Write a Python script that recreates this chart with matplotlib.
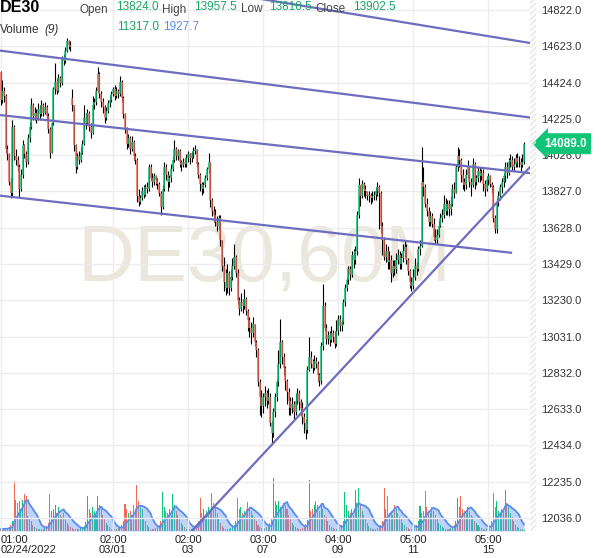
import matplotlib.pyplot as plt
import matplotlib.patches as mpatches
import matplotlib.transforms as mtransforms
import numpy as np
import pandas as pd

plt.rcParams["font.family"] = ["Liberation Sans", "DejaVu Sans"]

###############################################################################
# DE30 hourly candles, 02/24/2022 01:00 -> 03/15/2022 (one row per session)
###############################################################################

first_open = 14480
gap_opens = {42: 14340}  # weekend gap (02/25 -> 02/28)

closes = [
    14330, 14380, 14350, 14060, 14030, 13880, 13820, 14180, 14020, 14000, 13960, 13840, 13920, 14080, 14030, 13990, 14120, 14180, 14300, 14240, 14260, 14230,
    14280, 14250, 14300, 14260, 14290, 14240, 14170, 14040, 14200, 14390, 14430, 14380, 14450, 14420, 14560, 14540, 14600, 14650, 14630, 14620, 14300, 14080,
    13960, 14020, 14000, 14040, 14090, 14230, 14200, 14260, 14180, 14150, 14300, 14320, 14380, 14470, 14360, 14320, 14290, 14230, 14270, 14310, 14330, 14360,
    14390, 14350, 14380, 14360, 14430, 14340, 14250, 14170, 14090, 14120, 14060, 14100, 14020, 14000, 13800, 13770, 13790, 13830, 13810, 13850, 13840, 13960,
    13900, 13880, 13910, 13890, 13870, 13820, 13740, 13840, 13960, 13920, 13880, 13900, 13950, 14000, 14060, 14020, 14050, 13990, 13970, 13990, 13980, 14010,
    14030, 14010, 14040, 14050, 14060, 13980, 13920, 13870, 13840, 13860, 13900, 13950, 13990, 13780, 13720, 13700, 13660, 13640, 13680, 13560, 13420, 13330,
    13300, 13380, 13300, 13360, 13420, 13470, 13380, 13230, 13180, 13220, 13200, 13240, 13170, 13120, 13080, 13050, 13100, 13000, 12960, 12780, 12700, 12650,
    12700, 12720, 12680, 12700, 12560, 12500, 12620, 12700, 12780, 12880, 13000, 12920, 12860, 12790, 12730, 12680, 12640, 12660, 12620, 12680, 12720, 12670,
    12640, 12590, 12560, 12520, 12850, 12920, 12880, 12860, 12900, 12880, 12820, 12790, 12980, 13200, 13080, 13020, 13040, 13010, 13050, 13030, 12990, 13060,
    13130, 13090, 13110, 13220, 13300, 13340, 13400, 13370, 13480, 13450, 13500, 13700, 13860, 13800, 13870, 13840, 13830, 13800, 13810, 13790, 13800, 13810,
    13830, 13850, 13820, 13640, 13560, 13470, 13500, 13440, 13450, 13380, 13420, 13400, 13450, 13480, 13430, 13460, 13500, 13520, 13450, 13390, 13330, 13310,
    13360, 13420, 13400, 13510, 13530, 13880, 13850, 13760, 13720, 13660, 13690, 13650, 13580, 13560, 13590, 13640, 13680, 13700, 13760, 13720, 13760, 13730,
    13760, 13840, 13820, 13960, 14020, 14000, 13920, 13880, 13860, 13920, 13960, 13880, 13860, 13980, 13880, 13900, 13940, 13910, 13930, 13870, 13840, 13890,
    13910, 13870, 13850, 13680, 13620, 13770, 13800, 13850, 13880, 13910, 13960, 13930, 13990, 14000, 13960, 13980, 14010, 13990, 13990, 13970, 13990, 14089,
]

highs = [
    14490, 14440, 14400, 14360, 14080, 14040, 13900, 14220, 14190, 14060, 14020, 13980, 13950, 14110, 14090, 14050, 14140, 14210, 14340, 14310, 14290, 14280,
    14310, 14300, 14330, 14310, 14320, 14300, 14260, 14180, 14210, 14400, 14530, 14450, 14470, 14460, 14570, 14580, 14620, 14670, 14660, 14650, 14390, 14300,
    14090, 14040, 14050, 14070, 14110, 14300, 14260, 14280, 14270, 14200, 14350, 14340, 14400, 14510, 14480, 14380, 14340, 14300, 14290, 14330, 14350, 14380,
    14400, 14410, 14400, 14390, 14460, 14440, 14350, 14260, 14180, 14140, 14130, 14130, 14110, 14040, 14010, 13840, 13810, 13850, 13860, 13870, 13880, 13980,
    13980, 13930, 13930, 13920, 13900, 13880, 13830, 13860, 13990, 13980, 13940, 13920, 13980, 14020, 14110, 14070, 14060, 14060, 14000, 14010, 14010, 14030,
    14050, 14040, 14050, 14070, 14080, 14060, 13990, 13930, 13880, 13880, 13920, 13960, 14040, 13990, 13790, 13750, 13730, 13690, 13700, 13700, 13560, 13470,
    13400, 13430, 13390, 13400, 13460, 13540, 13480, 13400, 13250, 13270, 13240, 13290, 13250, 13180, 13140, 13110, 13140, 13100, 13010, 12970, 12800, 12740,
    12720, 12760, 12740, 12750, 12720, 12570, 12640, 12720, 12800, 12960, 13130, 13010, 12940, 12870, 12800, 12750, 12700, 12700, 12680, 12720, 12750, 12740,
    12690, 12670, 12610, 12580, 12870, 13030, 12950, 12910, 12930, 12920, 12900, 12830, 13000, 13320, 13220, 13100, 13060, 13060, 13090, 13070, 13060, 13120,
    13150, 13150, 13130, 13240, 13320, 13360, 13420, 13420, 13500, 13510, 13530, 13720, 13900, 13860, 13890, 13880, 13860, 13830, 13830, 13820, 13830, 13830,
    13850, 13880, 13860, 13830, 13660, 13580, 13540, 13530, 13500, 13480, 13450, 13450, 13490, 13510, 13500, 13490, 13540, 13560, 13540, 13460, 13400, 13360,
    13400, 13460, 13440, 13530, 13560, 14070, 13960, 13870, 13790, 13740, 13720, 13710, 13680, 13620, 13620, 13670, 13710, 13730, 13810, 13790, 13780, 13780,
    13800, 13870, 13880, 13980, 14070, 14060, 14010, 13950, 13900, 13950, 14000, 13960, 13900, 14010, 13990, 13920, 13960, 13960, 13950, 13950, 13890, 13910,
    13930, 13920, 13880, 13860, 13700, 13790, 13830, 13870, 13900, 13930, 13990, 13990, 14010, 14030, 14020, 14010, 14030, 14040, 14020, 14010, 14030, 14100,
]

lows = [
    14300, 14310, 14320, 14040, 14000, 13860, 13790, 13800, 14000, 13970, 13940, 13790, 13830, 13900, 14010, 13960, 13980, 14100, 14170, 14220, 14220, 14200,
    14220, 14220, 14240, 14240, 14250, 14220, 14150, 14010, 14040, 14190, 14360, 14360, 14370, 14400, 14410, 14520, 14530, 14590, 14610, 14600, 14270, 14050,
    13930, 13950, 13980, 13990, 14030, 14080, 14170, 14190, 14160, 14120, 14140, 14280, 14300, 14370, 14340, 14290, 14260, 14200, 14220, 14260, 14290, 14320,
    14350, 14330, 14340, 14340, 14350, 14320, 14230, 14150, 14060, 14070, 14030, 14050, 14000, 13980, 13770, 13750, 13760, 13780, 13790, 13800, 13820, 13830,
    13890, 13850, 13860, 13860, 13840, 13800, 13700, 13730, 13830, 13890, 13830, 13850, 13880, 13940, 13990, 14000, 14000, 13960, 13940, 13960, 13960, 13960,
    13990, 13980, 13990, 14010, 14030, 13960, 13900, 13830, 13810, 13820, 13850, 13890, 13930, 13740, 13690, 13660, 13640, 13610, 13620, 13530, 13390, 13280,
    13260, 13270, 13260, 13280, 13340, 13400, 13360, 13210, 13150, 13170, 13160, 13180, 13150, 13060, 13030, 12990, 13030, 12980, 12920, 12760, 12600, 12590,
    12610, 12650, 12640, 12660, 12540, 12440, 12480, 12590, 12680, 12760, 12860, 12880, 12820, 12740, 12660, 12600, 12600, 12610, 12580, 12600, 12660, 12630,
    12600, 12550, 12500, 12470, 12500, 12840, 12860, 12830, 12850, 12860, 12790, 12760, 12770, 12960, 13060, 12990, 12990, 12980, 13000, 13000, 12970, 12980,
    13040, 13060, 13060, 13100, 13200, 13280, 13320, 13340, 13360, 13410, 13430, 13480, 13680, 13750, 13790, 13800, 13790, 13780, 13770, 13760, 13770, 13780,
    13780, 13800, 13620, 13600, 13480, 13450, 13440, 13400, 13400, 13330, 13360, 13370, 13380, 13430, 13400, 13400, 13440, 13470, 13430, 13370, 13300, 13280,
    13290, 13340, 13370, 13390, 13480, 13520, 13800, 13740, 13690, 13640, 13640, 13630, 13560, 13540, 13540, 13580, 13630, 13660, 13680, 13700, 13700, 13690,
    13700, 13750, 13790, 13820, 13940, 13960, 13880, 13840, 13830, 13840, 13900, 13850, 13800, 13850, 13840, 13860, 13880, 13880, 13890, 13830, 13800, 13830,
    13860, 13850, 13820, 13660, 13600, 13600, 13750, 13780, 13820, 13850, 13880, 13900, 13920, 13960, 13940, 13940, 13960, 13960, 13960, 13940, 13960, 13980,
]

# hourly volume, one row from each cash open (09:00) to the next
volumes = [
    500, 400, 700, 500, 800, 1000, 1500, 2500,
    12500, 7750, 7000, 7500, 5500, 7750, 9250, 8750, 3750, 3000, 2500, 1500, 1000, 750, 500, 400, 500, 600, 800, 1200, 2000,
    9250, 5000, 5500, 6500, 4500, 6000, 4000, 3500, 4500, 3000, 2000, 1500, 1000, 750, 500, 400, 500, 500, 700, 900, 1300, 2200,
    8750, 5500, 4500, 6000, 5000, 4000, 8750, 6500, 5500, 4000, 3000, 2000, 1500, 1000, 600, 500, 400, 500, 700, 900, 1500, 2500,
    6750, 5500, 4500, 5000, 4000, 6500, 5500, 11500, 7500, 6500, 5500, 3000, 2500, 1500, 1000, 600, 500, 500, 700, 900, 1400, 2400,
    9750, 6000, 5000, 4500, 5500, 4000, 9250, 6500, 5000, 4000, 3000, 2000, 1500, 1000, 600, 500, 400, 500, 700, 1000, 1500, 2500,
    8250, 4500, 5500, 4000, 5000, 6000, 4500, 9500, 7000, 6000, 4500, 3000, 2000, 1200, 800, 600, 500, 600, 800, 1100, 1600, 2600,
    8250, 5500, 6000, 4500, 5000, 5500, 7250, 6000, 5000, 4000, 3500, 2500, 1500, 1000, 700, 600, 800, 1000, 1400, 2000, 3000,
    13250, 7500, 6500, 7500, 6000, 5500, 7000, 6500, 5500, 4000, 3000, 2000, 1500, 1000, 700, 600, 600, 800, 1200, 1800, 2800,
    12750, 5000, 5500, 6500, 7500, 6500, 5000, 7000, 5500, 4000, 3500, 2500, 1500, 1000, 700, 500, 500, 700, 1000, 1500, 2500,
    9750, 6500, 5000, 4500, 5500, 4000, 10250, 7000, 10750, 6500, 5000, 4000, 3000, 2000, 1200, 800, 600, 500, 600, 800, 1100, 1600, 2500,
    10750, 5500, 8750, 4500, 5000, 4000, 6500, 5500, 4500, 3500, 3000, 2000, 1500, 1000, 700, 500, 500, 700, 1000, 1500, 2500,
    6250, 4500, 5000, 10000, 6000, 5000, 4500, 6000, 5000, 4000, 3000, 2000, 1500, 1000, 700, 500, 500, 600, 800, 1100, 1600, 2500,
    8250, 6000, 8750, 5500, 5000, 4500, 6000, 5000, 4000, 3500, 2500, 2000, 1500, 1000, 700, 500, 500, 700, 1000, 1500, 2500,
    9500, 6000, 7500, 5000, 4500, 5500, 5000, 10250, 7000, 6000, 4500, 3500, 2500, 1500, 1000, 700, 500, 400, 300,
]

# trend lines drawn on the chart: (bar index, price) -> (bar index, price)
trendlines = [
    (140, 14902, 312, 14639),
    (-5, 14605, 312, 14231),
    (-5, 14251, 312, 13926),
    (-5, 13809, 299.4, 13491),
    (105, 11894, 312, 13976),
]

price_ticks = [12036, 12235, 12434, 12633, 12832, 13031, 13230, 13429,
               13628, 13827, 14026, 14225, 14424, 14623, 14822]
time_ticks = [0, 66, 110, 154, 198, 242, 286]
time_labels = ["01:00\n02/24/2022", "02:00\n03/01", "02:00\n03", "03:00\n07",
               "04:00\n09", "05:00\n11", "05:00\n15"]
last_price = 14089.0

###############################################################################

up_col = "#0fc47a"
down_col = "#f2695a"
line_col = "#6d6dc0"

idx = np.arange(len(closes))
closes = np.array(closes, dtype=float)
opens = np.r_[first_open, closes[:-1]]
for i, o in gap_opens.items():
    opens[i] = o
body_colours = [up_col if c >= o else down_col for o, c in zip(opens, closes)]

W, H = 601, 558
fig = plt.figure(figsize=(W / 100, H / 100), dpi=100)
rect = [0, (H - 531) / H, 530 / W, 531 / H]
xlim = (-0.3, 310.5)

# Volume pane (underneath the price axes)
vax = fig.add_axes(rect, zorder=0)
vax.bar(idx, volumes, width=0.6, color=body_colours, linewidth=0)
vol_ma = pd.Series(volumes).rolling(9, min_periods=1).mean()
vax.fill_between(idx, 0, vol_ma, color="#6f9ff0", alpha=0.45, linewidth=0)
vax.plot(idx, vol_ma, color="#5a8ceb", lw=1.3)
vax.set_xlim(*xlim)
vax.set_ylim(0, max(volumes) * 10.0)
vax.axis("off")

# Price pane
ax = fig.add_axes(rect, zorder=1)
ax.set_facecolor("none")
ax.set_axisbelow(True)
ax.grid(True, color="#ececec", lw=1)

ax.text(0.5, 0.51, "DE30,60M", transform=ax.transAxes, fontsize=57,
        color="#ebe7dc", ha="center", va="center", zorder=0)

ax.vlines(idx, lows, highs, color="black", lw=0.8, zorder=2)
ax.vlines(idx, opens, closes, colors=body_colours, lw=1.1, zorder=3)

for x0, y0, x1, y1 in trendlines:
    ax.plot([x0, x1], [y0, y1], color=line_col, lw=1.6, zorder=4)

ax.set_xlim(*xlim)
ax.set_ylim(11965, 14877)
ax.yaxis.tick_right()
ax.set_yticks(price_ticks)
ax.set_yticklabels([f"{p:.1f}" for p in price_ticks])
ax.set_xticks(time_ticks)
ax.set_xticklabels(time_labels, linespacing=0.95)
ax.get_xticklabels()[0].set_ha("left")
ax.tick_params(axis="y", length=0, pad=8, labelsize=8, colors="#333333")
ax.tick_params(axis="x", length=0, pad=3, labelsize=8, colors="#222222")
for s in ax.spines.values():
    s.set_visible(False)

# last price marker
trans = mtransforms.blended_transform_factory(ax.transAxes, ax.transData)
ax.text(1.0 + 14 / 530, last_price, f"{last_price:.1f}", transform=trans,
        ha="left", va="center", color="white", fontsize=8.5, fontweight="bold",
        clip_on=False, zorder=6,
        bbox=dict(boxstyle="larrow,pad=0.38", fc="#10c578", ec="none"))

# hatched right border of the chart
fig.patches.append(mpatches.Rectangle(
    (530 / W, (H - 531) / H), 6 / W, 531 / H, transform=fig.transFigure,
    fill=False, hatch="//////", edgecolor="#e6e6e6", lw=0))


def fpos(x, y):
    return x / W, 1 - y / H


# header
fig.text(*fpos(0, 8), "DE30", fontsize=11.5, fontweight="bold", va="center")
for label, lx, value, vx in [("Open", 80, "13824.0", 116), ("High", 162, "13957.5", 194),
                             ("Low", 241, "13810.5", 269), ("Close", 315, "13902.5", 353)]:
    fig.text(*fpos(lx, 9.5), label, fontsize=8.5, color="#444444", va="center")
    fig.text(*fpos(vx, 6.5), value, fontsize=8.5, color="#1aa563", va="center")
fig.text(*fpos(0, 30), "Volume", fontsize=8.5, color="#333333", va="center")
fig.text(*fpos(44, 30), "(9)", fontsize=8.5, color="#333333", va="center", style="italic")
fig.text(*fpos(117, 27.5), "11317.0", fontsize=8.5, color="#1aa563", va="center")
fig.text(*fpos(163, 27.5), "1927.7", fontsize=8.5, color="#5b8ee8", va="center")

fig.savefig("out.png", dpi=100)
